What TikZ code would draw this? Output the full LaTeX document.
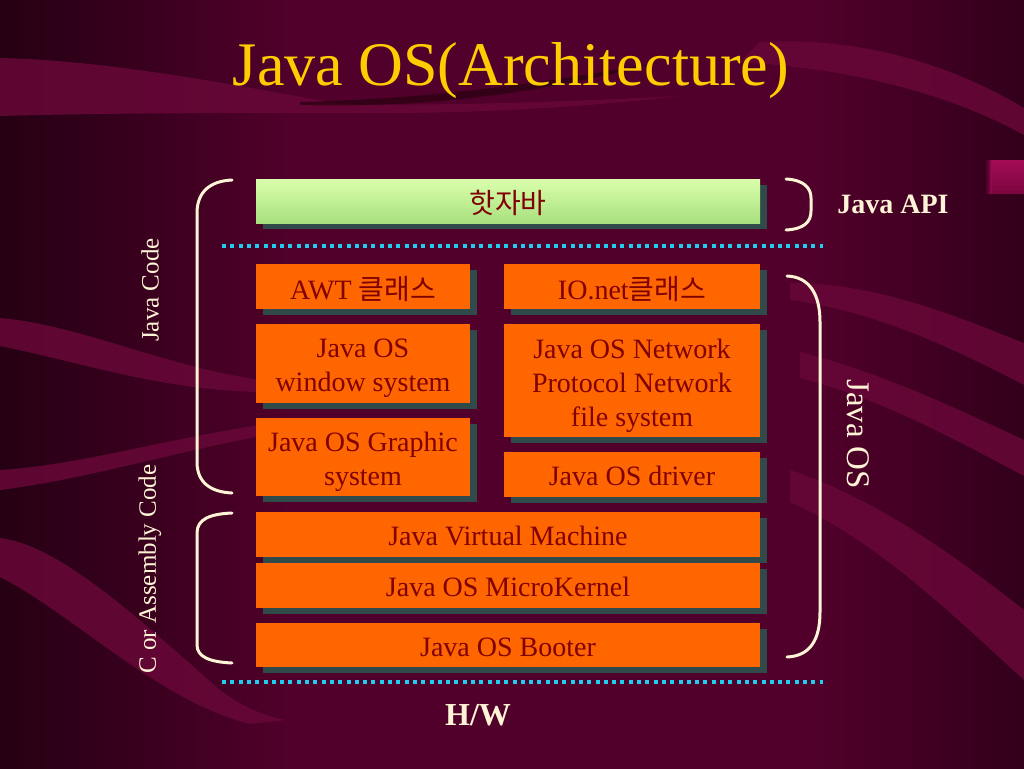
\documentclass[tikz,border=0pt]{standalone}
\usepackage{fontspec}
\setmainfont{Liberation Serif}
\newfontfamily\kr{Noto Sans CJK KR}
\usetikzlibrary{shadows}
\definecolor{boxor}{HTML}{FF6600}
\definecolor{boxtxt}{HTML}{800000}
\definecolor{shadowc}{HTML}{2F4A48}
\definecolor{cream}{HTML}{FFF5D6}
\definecolor{dotc}{HTML}{22CCEE}
\definecolor{titlec}{HTML}{FFCC00}
\definecolor{bgL}{HTML}{260013}
\definecolor{bgLM}{HTML}{36001C}
\definecolor{bgM}{HTML}{50002A}
\definecolor{bgR}{HTML}{32001A}
\definecolor{bandc}{HTML}{680838}
\definecolor{darkband}{HTML}{28000F}
\definecolor{greenT}{HTML}{DAFFAC}
\definecolor{greenB}{HTML}{A8E07E}
\definecolor{magT}{HTML}{A40C58}
\definecolor{magB}{HTML}{7C063E}
\pgfdeclarehorizontalshading{bgshade}{100bp}{color(0bp)=(bgL); color(25bp)=(bgL); color(31bp)=(bgLM); color(39bp)=(bgM); color(65bp)=(bgM); color(75bp)=(bgR); color(100bp)=(bgR)}
\begin{document}
\begin{tikzpicture}[x=1pt,y=-1pt,
  layer/.style={inner sep=0pt,
    general shadow={fill=shadowc, shadow xshift=7pt, shadow yshift=-6pt}},
  orangebox/.style={layer, fill=boxor},
  greenbox/.style={layer, top color=greenT, bottom color=greenB},
  boxlabel/.style={inner sep=0pt, align=center, text=boxtxt,
    font=\fontsize{28}{34}\selectfont},
  bracket/.style={draw=cream, line width=3pt, line cap=round},
  dotline/.style={draw=dotc, line width=4pt, dash pattern=on 4pt off 4.3pt},
  sidelabel/.style={text=cream, inner sep=0pt},
  band/.style={fill=bandc, opacity=0.85}]
\useasboundingbox (0,0) rectangle (1024,768);
% background
\shade[shading=bgshade] (0,0) rectangle (1024,768);
% swirl bands
\fill[band] (0,58) .. controls (100,60) and (220,82) .. (340,104) .. controls (450,106) and (560,102) .. (680,96) .. controls (560,110) and (450,114) .. (340,113) .. controls (220,113) and (100,113) .. (0,116) -- cycle;
\fill[darkband, opacity=0.7] (300,102) .. controls (420,99) and (530,86) .. (660,62) .. controls (530,96) and (420,108) .. (300,105) -- cycle;
\fill[band] (760,42) .. controls (870,36) and (960,70) .. (1024,108) -- (1024,135) .. controls (960,100) and (870,70) .. (740,62) -- cycle;
\fill[band] (0,318) .. controls (80,325) and (160,365) .. (260,380) -- (260,392) .. controls (160,390) and (80,362) .. (0,346) -- cycle;
\fill[band] (0,470) .. controls (80,465) and (160,440) .. (260,425) -- (260,436) .. controls (160,456) and (80,480) .. (0,490) -- cycle;
\fill[band] (0,538) .. controls (60,545) and (140,620) .. (220,690) .. controls (240,705) and (260,715) .. (285,720) -- (250,724) .. controls (160,702) and (70,612) .. (0,577) -- cycle;
\fill[band] (790,283) .. controls (880,283) and (960,318) .. (1024,343) -- (1024,385) .. controls (960,352) and (880,312) .. (790,300) -- cycle;
\fill[band] (800,352) .. controls (880,372) and (960,410) .. (1024,440) -- (1024,476) .. controls (960,442) and (880,398) .. (800,378) -- cycle;
\fill[band] (790,470) .. controls (880,500) and (960,560) .. (1024,610) -- (1024,680) .. controls (960,622) and (880,542) .. (790,502) -- cycle;
\shade[top color=magT, bottom color=magB] (990,160) rectangle (1024,193);
\shade[left color=bgR, right color=magT, opacity=0.8] (984,160) rectangle (992,193);
% title
\node[text=titlec, font=\fontsize{62}{70}\selectfont, inner sep=0pt] (title) at (511,71) {Java OS(Architecture)};
% boxes
\node[greenbox, minimum width=504pt, minimum height=44pt] (hot) at (508,201) {};
\node[orangebox, minimum width=214pt, minimum height=45pt] (awt) at (363,286.5) {};
\node[orangebox, minimum width=256pt, minimum height=45pt] (ionet) at (632,286.5) {};
\node[orangebox, minimum width=214pt, minimum height=79pt] (win) at (363,363.5) {};
\node[orangebox, minimum width=256pt, minimum height=113pt] (net) at (632,380.5) {};
\node[orangebox, minimum width=214pt, minimum height=78pt] (gfx) at (363,457) {};
\node[orangebox, minimum width=256pt, minimum height=45pt] (drv) at (632,474.5) {};
\node[orangebox, minimum width=504pt, minimum height=45pt] (jvm) at (508,534.5) {};
\node[orangebox, minimum width=504pt, minimum height=45pt] (mk) at (508,585.5) {};
\node[orangebox, minimum width=504pt, minimum height=44pt] (boot) at (508,645) {};
% box texts
\node[boxlabel] (hotl) at ([yshift=-1.5pt]hot.center) {\kr 핫자바};
\node[boxlabel] (awtl) at ([yshift=-2.5pt]awt.center) {AWT {\kr 클래스}};
\node[boxlabel] (ionetl) at ([yshift=-2.5pt]ionet.center) {IO.net{\kr 클래스}};
\node[boxlabel] (winl) at ([yshift=-5pt]win.center) {Java OS\\window system};
\node[boxlabel] (netl) at ([yshift=-5pt]net.center) {Java OS Network\\Protocol Network\\file system};
\node[boxlabel] (gfxl) at ([yshift=-5pt]gfx.center) {Java OS Graphic\\system};
\node[boxlabel] (drvl) at ([yshift=-1.5pt]drv.center) {Java OS driver};
\node[boxlabel] (jvml) at ([yshift=-1.5pt]jvm.center) {Java Virtual Machine};
\node[boxlabel] (mkl) at ([yshift=-1.5pt]mk.center) {Java OS MicroKernel};
\node[boxlabel] (bootl) at ([yshift=-2pt]boot.center) {Java OS Booter};
% dotted separators
\coordinate (d1a) at (222,246); \coordinate (d1b) at (823,246);
\coordinate (d2a) at (222,682); \coordinate (d2b) at (823,682);
\draw[dotline] (d1a) -- (d1b);
\draw[dotline] (d2a) -- (d2b);
% brackets
\draw[bracket] (232,180) .. controls (210,181) and (197,192) .. (197,213) -- (197,462) .. controls (197,482) and (210,492) .. (232,493);
\draw[bracket] (232,513) .. controls (210,514) and (197,519) .. (197,533) -- (197,645) .. controls (197,657) and (210,662) .. (232,663);
\draw[bracket] (786,179) .. controls (804,180) and (811,188) .. (811,198) -- (811,211) .. controls (811,222) and (804,229) .. (786,230);
\draw[bracket] (787,276) .. controls (810,277) and (820,295) .. (820,322) -- (820,612) .. controls (820,640) and (810,656) .. (787,657);
% labels
\node[sidelabel, font=\bfseries\fontsize{28}{32}\selectfont] (api) at (893,204) {Java API};
\node[sidelabel, font=\bfseries\fontsize{32}{36}\selectfont] (hw) at (478,715) {H/W};
\node[sidelabel, rotate=90, font=\fontsize{25}{30}\selectfont] (jcode) at (150,290) {Java Code};
\node[sidelabel, rotate=90, font=\fontsize{25}{30}\selectfont] (ccode) at (150,569) {C or Assembly Code};
\node[sidelabel, rotate=-90, font=\fontsize{33}{38}\selectfont] (jos) at (858,434) {Java OS};
\end{tikzpicture}
\end{document}
